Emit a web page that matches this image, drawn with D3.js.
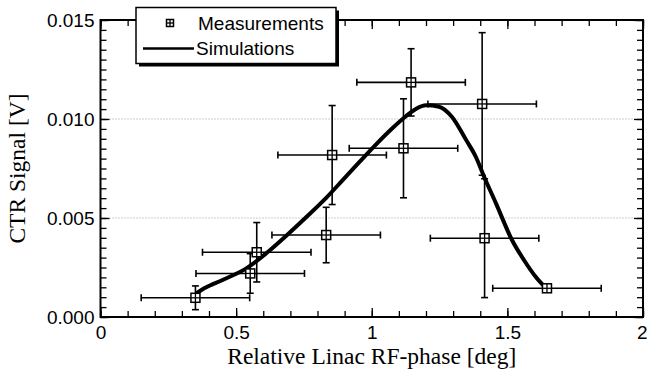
<!DOCTYPE html>
<html>
<head>
<meta charset="utf-8">
<script src="https://cdn.jsdelivr.net/npm/d3@7"></script>
<style>
  body { margin: 0; background: #fff; }
  svg { display: block; }
  .tick text { font-family: "Liberation Sans", Arial, Helvetica, sans-serif; font-size: 19px; fill: #000; }
  .title { font-family: "Liberation Serif", "Times New Roman", serif; font-size: 23.5px; fill: #000; }
  .legend text { font-family: "Liberation Sans", Arial, Helvetica, sans-serif; font-size: 19px; fill: #000; }
</style>
</head>
<body>
<div id="chart"></div>
<script>
// measured points (value, +- error)
var measX = [0.35, 0.552, 0.576, 0.832, 0.854, 1.117, 1.145, 1.407, 1.416, 1.646];
var measY = [0.00097, 0.0022, 0.00327, 0.00414, 0.00818, 0.00852, 0.01185, 0.01076, 0.00398, 0.00145];
var errX = [0.2, 0.2, 0.2, 0.2, 0.2, 0.2, 0.2, 0.2, 0.2, 0.2];
var errY = [0.0006, 0.001, 0.0015, 0.0014, 0.0025, 0.0025, 0.0017, 0.0036, 0.003, 0];

// simulation curve
var simX = [0.355, 0.384, 0.45, 0.539, 0.612, 0.686, 0.759, 0.833, 0.892, 0.954, 1.009, 1.075,
            1.127, 1.164, 1.2, 1.248, 1.296, 1.347, 1.384, 1.413, 1.458, 1.517, 1.561, 1.605, 1.642];
var simY = [0.00121, 0.00146, 0.00187, 0.00247, 0.00323, 0.00412, 0.00505, 0.00603, 0.0069, 0.00782,
            0.00862, 0.00952, 0.01015, 0.01052, 0.01069, 0.01062, 0.0101, 0.00896, 0.00808, 0.00712,
            0.00574, 0.00389, 0.00288, 0.00202, 0.00146];

var xTicks = [0, 0.5, 1, 1.5, 2];
var yTicks = [0, 0.005, 0.010, 0.015];
var gridY = [0.005, 0.010];

var w = 647, h = 374;
var margin = {left: 100.5, right: 4, top: 20, bottom: 57};

var svg = d3.select("#chart").append("svg").attr("width", w).attr("height", h);

var x = d3.scaleLinear().domain([0, 2]).range([margin.left, w - margin.right]);
var y = d3.scaleLinear().domain([0, 0.015]).range([h - margin.bottom, margin.top]);

var minorX = d3.range(0, 2.0001, 0.1);
var minorY = d3.range(0, 0.01501, 0.0005);

// gridlines
svg.append("g").selectAll("line").data(gridY).join("line")
  .attr("x1", x(0)).attr("x2", x(2))
  .attr("y1", function (d) { return y(d); }).attr("y2", function (d) { return y(d); })
  .attr("stroke", "#999").attr("stroke-width", 1).attr("stroke-dasharray", "1,2");

function noDomain(g) { g.select(".domain").remove(); g.selectAll(".tick line").attr("stroke", "#000").attr("stroke-width", 1.3); }

// bottom
svg.append("g").attr("transform", "translate(0," + y(0) + ")")
  .call(d3.axisBottom(x).tickValues(minorX).tickSize(-6).tickFormat("")).call(noDomain);
svg.append("g").attr("transform", "translate(0," + y(0) + ")")
  .call(d3.axisBottom(x).tickValues(xTicks).tickSize(-9).tickPadding(9)
    .tickFormat(function (d) { return d3.format("")(d); }))
  .call(noDomain)
  .call(function (g) {
    // last label sits at the window edge, keep it inside
    g.selectAll(".tick text").filter(function (d) { return d === 2; })
      .attr("text-anchor", "end").attr("dx", "4");
  });
// top
svg.append("g").attr("transform", "translate(0," + y(0.015) + ")")
  .call(d3.axisTop(x).tickValues(minorX).tickSize(-6).tickFormat("")).call(noDomain);
svg.append("g").attr("transform", "translate(0," + y(0.015) + ")")
  .call(d3.axisTop(x).tickValues(xTicks).tickSize(-9).tickFormat("")).call(noDomain);
// left
svg.append("g").attr("transform", "translate(" + x(0) + ",0)")
  .call(d3.axisLeft(y).tickValues(minorY).tickSize(-6).tickFormat("")).call(noDomain);
svg.append("g").attr("transform", "translate(" + x(0) + ",0)")
  .call(d3.axisLeft(y).tickValues(yTicks).tickSize(-9).tickPadding(6).tickFormat(d3.format(".3f")))
  .call(noDomain);
// right
svg.append("g").attr("transform", "translate(" + x(2) + ",0)")
  .call(d3.axisRight(y).tickValues(minorY).tickSize(-6).tickFormat("")).call(noDomain);
svg.append("g").attr("transform", "translate(" + x(2) + ",0)")
  .call(d3.axisRight(y).tickValues(yTicks).tickSize(-9).tickFormat("")).call(noDomain);

// frame
svg.append("rect")
  .attr("x", x(0)).attr("y", y(0.015))
  .attr("width", x(2) - x(0)).attr("height", y(0) - y(0.015))
  .attr("fill", "none").attr("stroke", "#000").attr("stroke-width", 2);

// error bars
var pts = measX.map(function (d, i) { return {x: d, y: measY[i], ex: errX[i], ey: errY[i]}; });
var eb = svg.append("g").attr("stroke", "#000").attr("stroke-width", 1.6).attr("fill", "none");
var cap = 3.5;
pts.forEach(function (p) {
  var cx = x(p.x), cy = y(p.y);
  var x0 = x(p.x - p.ex), x1 = x(p.x + p.ex);
  eb.append("line").attr("x1", x0).attr("x2", x1).attr("y1", cy).attr("y2", cy);
  eb.append("line").attr("x1", x0).attr("x2", x0).attr("y1", cy - cap).attr("y2", cy + cap);
  eb.append("line").attr("x1", x1).attr("x2", x1).attr("y1", cy - cap).attr("y2", cy + cap);
  if (p.ey > 0) {
    var y0 = y(p.y - p.ey), y1 = y(p.y + p.ey);
    eb.append("line").attr("x1", cx).attr("x2", cx).attr("y1", y0).attr("y2", y1);
    eb.append("line").attr("x1", cx - cap).attr("x2", cx + cap).attr("y1", y0).attr("y2", y0);
    eb.append("line").attr("x1", cx - cap).attr("x2", cx + cap).attr("y1", y1).attr("y2", y1);
  }
});

// simulation curve
var line = d3.line()
  .x(function (d) { return x(d[0]); })
  .y(function (d) { return y(d[1]); })
  .curve(d3.curveMonotoneX);
svg.append("path")
  .datum(simX.map(function (d, i) { return [d, simY[i]]; }))
  .attr("d", line)
  .attr("fill", "none").attr("stroke", "#000").attr("stroke-width", 4)
  .attr("stroke-linejoin", "round").attr("stroke-linecap", "round");

// markers: square with cross
function marker(g, cx, cy, s) {
  g.append("rect").attr("x", cx - s / 2).attr("y", cy - s / 2).attr("width", s).attr("height", s)
    .attr("fill", "#fff").attr("stroke", "#000").attr("stroke-width", 1.5);
  g.append("line").attr("x1", cx - s / 2).attr("x2", cx + s / 2).attr("y1", cy).attr("y2", cy)
    .attr("stroke", "#000").attr("stroke-width", 1.3);
  g.append("line").attr("x1", cx).attr("x2", cx).attr("y1", cy - s / 2).attr("y2", cy + s / 2)
    .attr("stroke", "#000").attr("stroke-width", 1.3);
}
var mk = svg.append("g");
pts.forEach(function (p) { marker(mk, x(p.x), y(p.y), 9); });

// titles
svg.append("text").attr("class", "title")
  .attr("x", (x(0) + x(2)) / 2).attr("y", 364).attr("text-anchor", "middle")
  .text("Relative Linac RF-phase [deg]");
svg.append("text").attr("class", "title")
  .attr("transform", "translate(25," + (y(0) + y(0.015)) / 2 + ") rotate(-90)")
  .attr("text-anchor", "middle")
  .text("CTR Signal [V]");

// legend
var lg = svg.append("g").attr("class", "legend");
lg.append("rect").attr("x", 139).attr("y", 10.5).attr("width", 200).attr("height", 56).attr("fill", "#000");
lg.append("rect").attr("x", 136).attr("y", 7.5).attr("width", 200).attr("height", 56)
  .attr("fill", "#fff").attr("stroke", "#000").attr("stroke-width", 1.5);
marker(lg, 170, 23, 7);
lg.append("text").attr("x", 198).attr("y", 30).text("Measurements");
lg.append("line").attr("x1", 143).attr("x2", 194).attr("y1", 48.5).attr("y2", 48.5)
  .attr("stroke", "#000").attr("stroke-width", 2.5);
lg.append("text").attr("x", 196).attr("y", 55).text("Simulations");
</script>
</body>
</html>
